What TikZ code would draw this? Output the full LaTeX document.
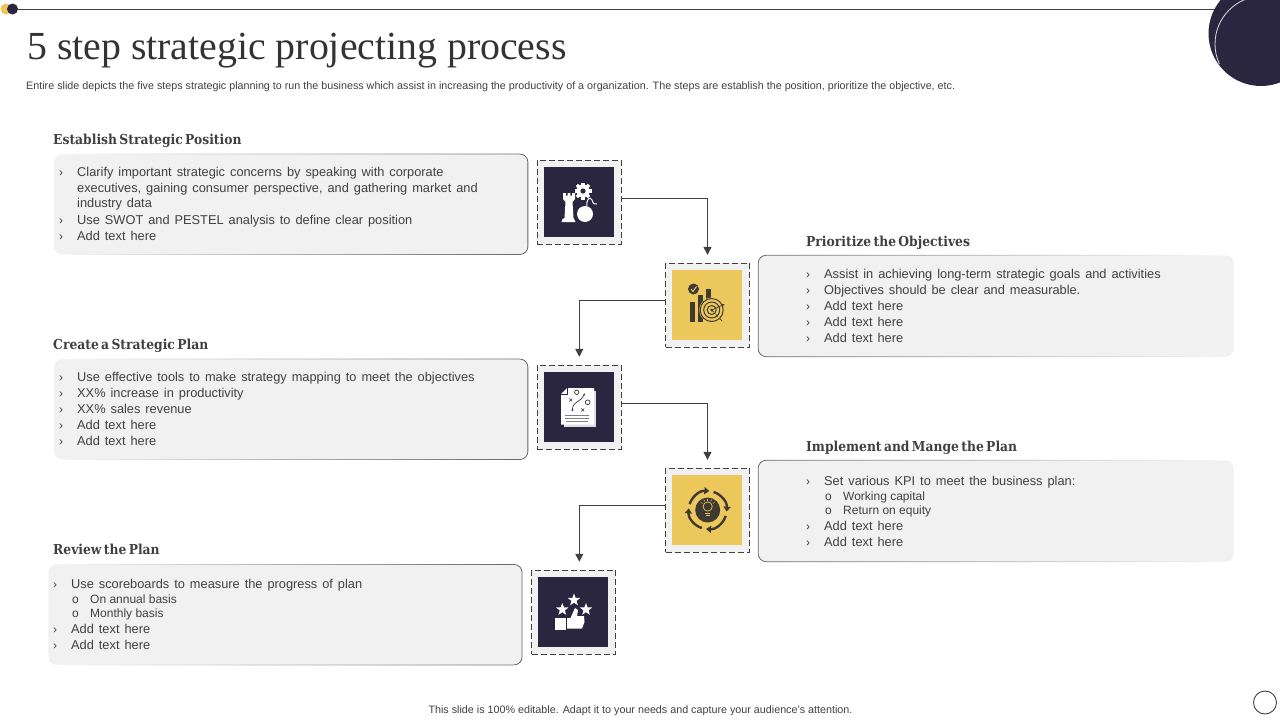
\documentclass[tikz,border=0pt]{standalone}
\usepackage{fontspec}
\setmainfont{Liberation Sans}
\newfontfamily\titlefont{Liberation Serif}
\newfontfamily\headfont[WordSpace=0.55]{DejaVu Serif Condensed}
\newfontfamily\bodyfont[WordSpace=1.4]{Liberation Sans}
\usepackage{tikz}
\usetikzlibrary{calc,positioning,arrows.meta,shapes.geometric,fadings}
\definecolor{SlideNavy}{RGB}{42,38,64}
\definecolor{SlideGold}{RGB}{236,200,92}
\definecolor{SlideInk}{RGB}{64,64,64}
\definecolor{IconInk}{RGB}{62,58,50}
\definecolor{PanelGrey}{RGB}{241,241,241}
\tikzset{
  stepbox/.style={draw=SlideInk,dashed,dash pattern=on 6pt off 3pt,line width=0.9pt,fill=PanelGrey,minimum size=84pt,inner sep=0pt},
  innerbox/.style={minimum size=70pt,inner sep=0pt},
  panel/.style={fill=PanelGrey,rounded corners=8pt,inner sep=0pt},
  panelline/.style={draw=SlideInk!80,line width=0.8pt,rounded corners=8pt},
  flow/.style={draw=SlideInk,line width=1pt,-{Triangle[width=8pt,length=8pt]},shorten >=8pt},
  heading/.style={anchor=base west,inner sep=0pt,font=\headfont\bfseries\fontsize{13.7}{16}\selectfont,text=SlideInk},
  itemtext/.style={anchor=base west,inner sep=0pt,font=\bodyfont\fontsize{12.8}{15}\selectfont,text=SlideInk},
  subtext/.style={anchor=base west,inner sep=0pt,font=\fontsize{12}{14}\selectfont,text=SlideInk},
  note/.style={anchor=base west,inner sep=0pt,font=\fontsize{10.75}{13}\selectfont,text=SlideInk},
  ministar/.style={star,star points=5,star point ratio=2.4,fill=white,minimum size=13pt,inner sep=0pt},
}
\newcommand{\bulletrow}[4]{%
  \node[itemtext,font=\fontsize{12}{14}\selectfont] (#1m) at (#2-18,#3) {›};
  \node[itemtext] (#1) at (#2,#3) {#4};}
\newcommand{\subrow}[4]{%
  \node[subtext] (#1m) at (#2-18,#3) {o};
  \node[subtext] (#1) at (#2,#3) {#4};}
\newcommand{\panelbox}[6]{%
  \node[panel,minimum width=#4pt,minimum height=#5pt] (#1) at (#2,#3) {};
  \draw[panelline,path fading=#6] (#1.south west) rectangle (#1.north east);}
\begin{document}
\begin{tikzpicture}[x=1pt,y=-1pt]
\useasboundingbox (0,0) rectangle (1280,720);
\clip (0,0) rectangle (1280,720);
% top band
\fill[SlideGold] (6,9) circle (5.5);
\draw[SlideInk,line width=1pt] (12,9.5) -- (1230,9.5);
\fill[SlideNavy] (12.5,9) circle (5.5);
\fill[SlideNavy] (1261,33.5) circle (52.5);
\begin{scope}
\clip (1200,0) rectangle (1280,63);
\draw[white!85!SlideNavy,line width=0.8pt] (1263,44) circle (48);
\end{scope}
\node[anchor=base west,inner sep=0pt,font=\titlefont\fontsize{39.8}{42}\selectfont,text=SlideInk!80!black] (title) at (27,59) {5 step strategic projecting process};
\node[note] (intro) at (26,89) {Entire slide depicts the five steps strategic planning to run the business which assist in increasing the productivity of a organization. The steps are establish the position, prioritize the objective, etc.};
% panels
\panelbox{pa}{291.2}{204.3}{474}{100}{west}
\panelbox{pb}{996}{306}{475}{101}{east}
\panelbox{pc}{291.2}{409.3}{474}{100}{west}
\panelbox{pd}{996}{511}{475}{101}{east}
\panelbox{pe}{285.4}{614.7}{474}{100}{west}
\node[heading] (ha) at (53,144) {Establish Strategic Position};
\node[heading] (hb) at (806,246) {Prioritize the Objectives};
\node[heading] (hc) at (53,349) {Create a Strategic Plan};
\node[heading] (hd) at (806,451) {Implement and Mange the Plan};
\node[heading] (he) at (53,554) {Review the Plan};
% panel texts
\bulletrow{aa}{77}{176}{Clarify important strategic concerns by speaking with corporate}
\node[itemtext] (ab) at (77,192) {executives, gaining consumer perspective, and gathering market and};
\node[itemtext] (ac) at (77,207.5) {industry data};
\bulletrow{ad}{77}{224}{Use SWOT and PESTEL analysis to define clear position}
\bulletrow{ae}{77}{240}{Add text here}
\bulletrow{ba}{824}{278}{Assist in achieving long-term strategic goals and activities}
\bulletrow{bb}{824}{294}{Objectives should be clear and measurable.}
\bulletrow{bc}{824}{310}{Add text here}
\bulletrow{bd}{824}{326}{Add text here}
\bulletrow{be}{824}{342}{Add text here}
\bulletrow{ca}{77}{381}{Use effective tools to make strategy mapping to meet the objectives}
\bulletrow{cb}{77}{397}{XX\% increase in productivity}
\bulletrow{cc}{77}{413}{XX\% sales revenue}
\bulletrow{cd}{77}{429}{Add text here}
\bulletrow{ce}{77}{445}{Add text here}
\bulletrow{da}{824}{485}{Set various KPI to meet the business plan:}
\subrow{db}{843}{500}{Working capital}
\subrow{dc}{843}{514}{Return on equity}
\bulletrow{dd}{824}{530}{Add text here}
\bulletrow{de}{824}{546}{Add text here}
\bulletrow{ea}{71}{588}{Use scoreboards to measure the progress of plan}
\subrow{eb}{90}{603}{On annual basis}
\subrow{ec}{90}{617}{Monthly basis}
\bulletrow{ed}{71}{633}{Add text here}
\bulletrow{ee}{71}{649}{Add text here}
% step boxes
\node[stepbox] (stepa) at (579.3,202.3) {};
\node[stepbox] (stepb) at (707.5,305.3) {};
\node[stepbox] (stepc) at (579.3,407.3) {};
\node[stepbox] (stepd) at (707.5,510.3) {};
\node[stepbox] (stepe) at (573.7,612.2) {};
\node[innerbox,fill=SlideNavy] (inna) at ([shift={(-0.4,-0.6)}]stepa.center) {};
\node[innerbox,fill=SlideGold] (innb) at ([shift={(-0.4,-0.6)}]stepb.center) {};
\node[innerbox,fill=SlideNavy] (innc) at ([shift={(-0.4,-0.6)}]stepc.center) {};
\node[innerbox,fill=SlideGold] (innd) at ([shift={(-0.4,-0.6)}]stepd.center) {};
\node[innerbox,fill=SlideNavy] (inne) at ([shift={(-0.4,-0.6)}]stepe.center) {};
% connectors
\draw[flow] ([yshift=4.3pt]stepa.east) -| (stepb.north);
\draw[flow] ([yshift=5.3pt]stepb.west) -| (stepc.north);
\draw[flow] ([yshift=3.7pt]stepc.east) -| (stepd.north);
\draw[flow] ([yshift=5.3pt]stepd.west) -| ([xshift=5.6pt]stepe.north);
% rook, gear and bomb
\fill[white] (561.5,222) -- (562.5,219) -- (564.5,218) -- (565.5,202) -- (563,199) -- (563,193) -- (565.8,193) -- (565.8,195.5) -- (567.6,195.5) -- (567.6,193) -- (570.4,193) -- (570.4,195.5) -- (572.2,195.5) -- (572.2,193) -- (575,193) -- (575,199) -- (572.5,202) -- (573.5,218) -- (575.5,222) -- cycle;
\foreach \a in {0,45,...,315} \fill[white,rotate around={\a:(583,191)}] (581.3,182.5) rectangle (584.7,186);
\fill[white] (583,191) circle (6.5);
\fill[SlideNavy] (583,191) circle (2.6);
\fill[white] (585,214) circle (8);
\draw[white,line width=1pt] (587,206) .. controls (586,199) and (590,196) .. (592,200) .. controls (593,204) and (595,205) .. (597,204);
% bars and target
\fill[IconInk] (689.5,302) rectangle (695,322);
\fill[IconInk] (697.5,295) rectangle (703,322);
\fill[IconInk] (705.5,288.5) rectangle (711,305);
\fill[IconInk] (693.5,289) circle (5.5);
\draw[SlideGold,line width=1pt] (691,289) -- (693,291.5) -- (696.5,286.5);
\fill[SlideGold] (711.7,310) circle (12.5);
\foreach \r in {11.5,8,4.5} \draw[IconInk,line width=1pt] (711.7,310) circle (\r);
\fill[IconInk] (711.7,310) circle (1.5);
\draw[IconInk,line width=0.7pt,-{Latex[length=3pt]}] (711.7,310) -- (725,304);
\draw[IconInk,line width=0.7pt,dashed] (711.7,310) -- (724,323);
% strategy sheet
\fill[white!85!SlideNavy] (564,391) rectangle (595.5,426.5);
\fill[white] (567,388) -- (594,388) -- (594,424.5) -- (561,424.5) -- (561,394) -- cycle;
\draw[SlideNavy,line width=0.6pt] (561,394) -- (567,394) -- (567,388);
\draw[IconInk,line width=0.7pt] (576.7,392.3) circle (2.2);
\draw[IconInk,line width=0.7pt] (587.7,402.3) circle (2.4);
\draw[IconInk,line width=0.7pt,-{Latex[length=2.5pt]}] (572.5,409) .. controls (573,401) and (580,403) .. (585,393);
\fill[IconInk] (572.5,410) circle (1.1);
\draw[IconInk,line width=0.6pt] (569.2,398.5) -- (572.2,401.5) (572.2,398.5) -- (569.2,401.5);
\draw[IconInk,line width=0.6pt] (581.2,408.5) -- (584.2,411.5) (584.2,408.5) -- (581.2,411.5);
\draw[SlideNavy!60,line width=0.8pt] (565,415) -- (589,415) (565,418.5) -- (589,418.5) (566,421.5) -- (588,421.5);
% cycle with bulb
\fill[IconInk] (707.7,510) circle (12.5);
\foreach \a in {0,90,180,270} \draw[IconInk,line width=2.4pt,-{Triangle[width=7pt,length=5pt]}] ($(707.7,510)+(\a-72:19)$) arc[start angle=\a-72,end angle=\a+5,radius=19];
\draw[SlideGold,line width=0.7pt] (707.7,506.5) circle (4.6);
\draw[SlideGold,line width=0.7pt] (705,513) -- (710.4,513) (705.5,515.5) -- (709.9,515.5);
\foreach \a in {-150,-120,-90,-60,-30} \draw[SlideGold,line width=0.5pt] ($(707.7,506.5)+(\a:6)$) -- ($(707.7,506.5)+(\a:8)$);
% thumb and stars
\node[ministar] (stara) at (574,600) {};
\node[ministar] (starb) at (562.3,609.5) {};
\node[ministar] (starc) at (586,609.5) {};
\fill[white] (555,617.5) rectangle (565.5,630);
\fill[white] (567,618) -- (570.5,618) -- (575,608) -- (578,610) -- (577,616) -- (584,616) -- (584.5,622) -- (582,628.5) -- (567,628.5) -- cycle;
% footer
\node[note,anchor=base] (foot) at (640.5,713) {This slide is 100\% editable. Adapt it to your needs and capture your audience's attention.};
\node[circle,draw=SlideInk,line width=0.9pt,minimum size=23pt,inner sep=0pt] (mark) at (1265,702.5) {};
\end{tikzpicture}
\end{document}
